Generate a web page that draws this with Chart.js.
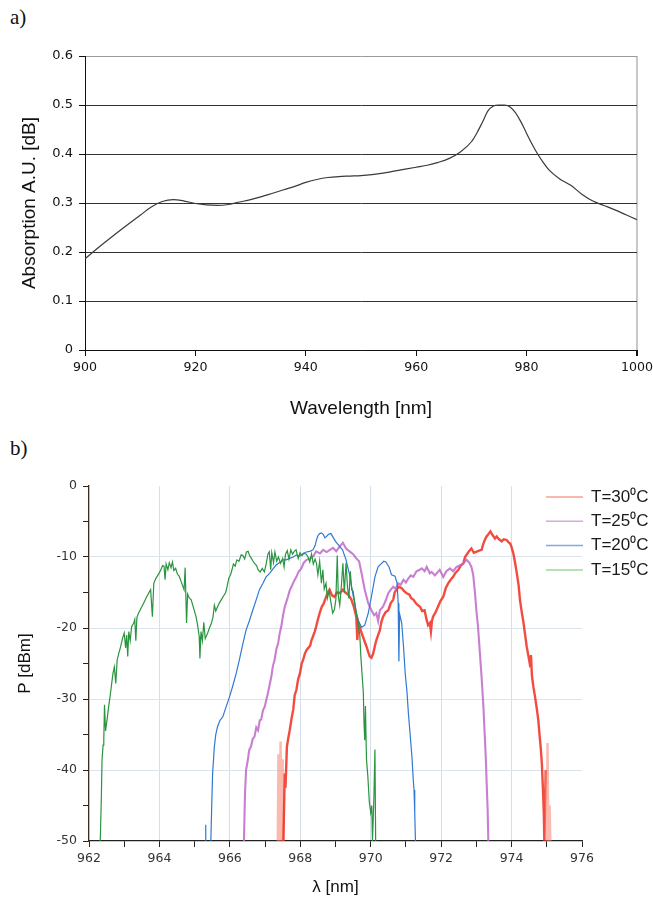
<!DOCTYPE html>
<html>
<head>
<meta charset="utf-8">
<script src="https://cdn.jsdelivr.net/npm/chart.js@4.4.1/dist/chart.umd.min.js"></script>
<style>
  body { margin: 0; background: #fff; width: 653px; height: 898px; position: relative; overflow: hidden; }
  .tag { position: absolute; left: 10px; font-family: "Liberation Serif", "DejaVu Serif", serif; font-size: 21px; line-height: 1; color: #111; }
  canvas { position: absolute; left: 0; }
</style>
</head>
<body>
<div class="tag" style="top:7px">a)</div>
<div class="tag" style="top:438px">b)</div>
<canvas id="absChart" width="653" height="420" style="top:0"></canvas>
<canvas id="specChart" width="653" height="468" style="top:430px"></canvas>
<script>
// a) absorption vs wavelength
const absWl = [900, 902, 905, 908, 910, 912, 914, 916, 918, 920,
  922, 924, 926, 928, 930, 932, 934, 936, 938, 940,
  942, 944, 946, 948, 950, 952, 954, 956, 958, 960,
  962, 964, 966, 968, 970, 971, 972, 973, 974, 975,
  976, 977, 978, 979, 980, 981, 982, 983, 984, 986,
  988, 990, 992, 994, 996, 998, 1000];
const absVal = [0.186, 0.205, 0.232, 0.258, 0.275, 0.292, 0.303, 0.307, 0.304, 0.299,
  0.296, 0.295, 0.297, 0.302, 0.307, 0.313, 0.320, 0.327, 0.334, 0.342,
  0.348, 0.352, 0.354, 0.355, 0.356, 0.358, 0.361, 0.365, 0.369, 0.373,
  0.377, 0.383, 0.391, 0.404, 0.425, 0.443, 0.465, 0.488, 0.498, 0.500,
  0.500, 0.496, 0.484, 0.465, 0.442, 0.420, 0.400, 0.383, 0.368, 0.349,
  0.336, 0.318, 0.304, 0.295, 0.286, 0.276, 0.266];

// b) spectra, one pair of arrays per temperature
const seriesLabels = ['T=30\u2070C', 'T=25\u2070C', 'T=20\u2070C', 'T=15\u2070C'];

const wl30 = [967.36, 967.38, 967.40, 967.44, 967.47, 967.50, 967.52, 967.56, 967.58, 967.62,
  967.66, 967.70, 967.75, 967.80, 967.84, 967.89, 967.94, 967.99, 968.04, 968.08,
  968.13, 968.18, 968.23, 968.28, 968.32, 968.36, 968.41, 968.45, 968.50, 968.55,
  968.61, 968.66, 968.72, 968.78, 968.83, 968.90, 968.97, 969.04, 969.12, 969.21,
  969.28, 969.36, 969.45, 969.52, 969.59, 969.62, 969.65, 969.74, 969.82, 969.88,
  969.93, 969.97, 970.02, 970.07, 970.12, 970.16, 970.21, 970.26, 970.30, 970.35,
  970.42, 970.50, 970.57, 970.64, 970.68, 970.73, 970.80, 970.88, 970.95, 971.02,
  971.10, 971.15, 971.21, 971.30, 971.40, 971.46, 971.53, 971.59, 971.63, 971.68,
  971.71, 971.74, 971.77, 971.84, 971.91, 971.98, 972.06, 972.13, 972.20, 972.27,
  972.34, 972.41, 972.49, 972.56, 972.63, 972.68, 972.72, 972.79, 972.86, 972.93,
  973.01, 973.08, 973.15, 973.20, 973.24, 973.29, 973.34, 973.40, 973.46, 973.53,
  973.58, 973.62, 973.67, 973.72, 973.78, 973.86, 973.91, 973.96, 974.00, 974.05,
  974.10, 974.15, 974.20, 974.24, 974.29, 974.34, 974.38, 974.43, 974.48, 974.53,
  974.55, 974.58, 974.62, 974.67, 974.72, 974.76, 974.79, 974.83, 974.86, 974.88,
  974.90, 974.92, 974.93, 974.97, 975.00, 975.02, 975.05, 975.08, 975.10];
const p30 = [-50, -37.8, -50, -36.0, -50, -38.5, -50, -40.5, -42.5, -36.7,
  -35.5, -34.4, -32.8, -31.5, -29.5, -28.7, -27.2, -26.4, -25.0, -24.5,
  -23.6, -23.1, -22.8, -22.5, -21.7, -21.2, -20.5, -19.8, -18.8, -17.9,
  -17.0, -16.6, -15.8, -15.0, -14.6, -15.4, -15.6, -15.0, -15.1, -14.6,
  -15.0, -15.3, -16.0, -17.0, -18.4, -21.7, -19.2, -20.7, -21.8, -22.6,
  -23.4, -24.0, -24.2, -23.6, -22.5, -21.7, -21.0, -20.3, -19.2, -18.4,
  -17.8, -17.5, -16.5, -16.0, -15.0, -14.6, -14.2, -14.4, -14.8, -15.1,
  -15.3, -15.8, -16.0, -16.6, -17.0, -17.6, -17.5, -18.9, -19.6, -19.3,
  -20.5, -19.0, -18.4, -17.8, -17.0, -16.2, -15.6, -14.4, -13.7, -13.2,
  -12.8, -12.2, -11.8, -11.2, -10.9, -10.0, -9.7, -9.2, -8.8, -9.4,
  -9.25, -9.1, -9.0, -8.1, -7.6, -7.1, -6.8, -6.4, -6.9, -7.4,
  -7.1, -7.4, -7.6, -7.8, -7.5, -7.6, -7.9, -8.1, -8.6, -9.5,
  -10.8, -12.3, -14.0, -16.1, -17.8, -19.3, -20.8, -22.6, -24.0, -25.4,
  -23.8, -26.8, -28.3, -29.8, -31.5, -33.0, -34.8, -37.0, -39.1, -41.5,
  -43.8, -47, -50, -40, -50, -36.2, -50, -45, -50];

const wl25 = [966.40, 966.43, 966.46, 966.51, 966.55, 966.60, 966.65, 966.70, 966.75, 966.80,
  966.85, 966.89, 966.94, 966.99, 967.04, 967.08, 967.13, 967.18, 967.22, 967.27,
  967.32, 967.37, 967.41, 967.46, 967.51, 967.56, 967.60, 967.65, 967.70, 967.75,
  967.82, 967.89, 967.96, 968.03, 968.10, 968.18, 968.27, 968.37, 968.45, 968.56,
  968.65, 968.75, 968.84, 968.93, 969.02, 969.12, 969.21, 969.30, 969.40, 969.50,
  969.59, 969.67, 969.74, 969.83, 969.93, 970.02, 970.10, 970.16, 970.21, 970.26,
  970.35, 970.42, 970.50, 970.57, 970.64, 970.71, 970.78, 970.85, 970.93, 971.00,
  971.07, 971.14, 971.21, 971.30, 971.39, 971.45, 971.53, 971.59, 971.68, 971.73,
  971.82, 971.96, 972.06, 972.15, 972.25, 972.34, 972.44, 972.53, 972.63, 972.72,
  972.80, 972.86, 972.91, 972.96, 973.00, 973.05, 973.10, 973.15, 973.20, 973.24,
  973.27, 973.29, 973.32, 973.34];
const p25 = [-50, -43.3, -40.0, -38.6, -37.2, -36.7, -35.6, -35.3, -34.0, -34.4,
  -33.0, -32.9, -31.6, -31.1, -30.0, -29.2, -28.0, -26.8, -25.4, -24.5,
  -23.0, -22.2, -20.9, -19.8, -18.2, -17.0, -16.4, -15.6, -14.7, -14.2,
  -13.4, -12.8, -12.0, -11.6, -10.8, -10.4, -10.2, -9.9, -9.2, -9.5,
  -9.0, -9.3, -9.0, -8.7, -9.2, -8.5, -8.0, -8.8, -9.2, -9.6,
  -10.2, -10.6, -12.3, -14.6, -16.5, -17.5, -18.2, -17.9, -19.0, -17.5,
  -17.0, -16.2, -15.1, -14.6, -14.2, -14.5, -13.7, -13.9, -13.2, -13.6,
  -13.0, -12.6, -12.8, -12.0, -11.8, -11.6, -12.0, -11.4, -12.3, -12.1,
  -12.6, -11.8, -12.8, -12.0, -11.6, -12.0, -11.4, -11.2, -10.9, -10.4,
  -10.8, -11.4, -12.5, -15.0, -17.5, -20.0, -23.5, -27.0, -31.0, -35.3,
  -38.5, -41.5, -45.5, -50];

const wl20 = [965.30, 965.31, 965.32, 965.33, 965.46, 965.49, 965.51, 965.56, 965.60, 965.65,
  965.72, 965.80, 965.90, 965.99, 966.08, 966.18, 966.27, 966.37, 966.46, 966.56,
  966.65, 966.75, 966.84, 966.94, 967.03, 967.13, 967.22, 967.32, 967.41, 967.51,
  967.60, 967.70, 967.80, 967.89, 967.98, 968.08, 968.17, 968.27, 968.36, 968.42,
  968.46, 968.50, 968.55, 968.60, 968.65, 968.70, 968.75, 968.80, 968.87, 968.93,
  969.00, 969.10, 969.20, 969.30, 969.40, 969.50, 969.58, 969.65, 969.74, 969.83,
  969.93, 970.02, 970.12, 970.21, 970.31, 970.37, 970.43, 970.52, 970.59, 970.69,
  970.75, 970.78, 970.80, 970.82, 970.88, 970.93, 970.98, 971.03, 971.07, 971.12,
  971.17, 971.21, 971.23, 971.25, 971.27];
const p20 = [-50, -47.7, -50, null, -50, -44, -40.5, -36.7, -35.0, -33.9,
  -33.0, -32.5, -31.0, -29.7, -28.2, -26.4, -24.5, -22.2, -20.3, -18.9,
  -17.5, -16.0, -14.6, -13.7, -12.8, -12.3, -11.7, -11.1, -10.8, -10.4,
  -10.4, -10.2, -10.0, -9.7, -9.9, -9.5, -9.3, -9.2, -9.0, -8.4,
  -7.6, -7.0, -6.7, -6.6, -6.8, -7.3, -7.1, -6.8, -6.7, -7.2,
  -7.8, -8.4, -9.0, -10.4, -12.5, -15.4, -17.6, -19.0, -19.9, -19.6,
  -17.9, -15.6, -12.8, -11.4, -10.9, -10.6, -10.7, -11.4, -12.5, -12.7,
  -13.7, -16.5, -24.7, -18.0, -19.3, -22.5, -26.4, -29.0, -32.0, -35.0,
  -38.1, -41.5, -42.8, -46, -50];

const wl15 = [962.32, 962.35, 962.37, 962.40, 962.42, 962.44, 962.47, 962.51, 962.56, 962.60,
  962.64, 962.68, 962.72, 962.76, 962.80, 962.85, 962.90, 962.95, 963.00, 963.04,
  963.07, 963.10, 963.13, 963.17, 963.21, 963.27, 963.30, 963.33, 963.36, 963.40,
  963.46, 963.55, 963.65, 963.75, 963.80, 963.84, 963.90, 963.94, 964.00, 964.04,
  964.09, 964.13, 964.16, 964.19, 964.24, 964.28, 964.33, 964.37, 964.41, 964.46,
  964.51, 964.56, 964.62, 964.70, 964.73, 964.77, 964.80, 964.85, 964.90, 964.97,
  965.04, 965.09, 965.13, 965.15, 965.18, 965.22, 965.26, 965.30, 965.37, 965.42,
  965.47, 965.52, 965.56, 965.60, 965.65, 965.70, 965.76, 965.82, 965.88, 965.92,
  965.97, 966.02, 966.06, 966.10, 966.15, 966.20, 966.26, 966.32, 966.37, 966.42,
  966.47, 966.52, 966.56, 966.61, 966.66, 966.70, 966.76, 966.80, 966.86, 966.92,
  966.98, 967.03, 967.08, 967.12, 967.16, 967.19, 967.24, 967.28, 967.33, 967.38,
  967.44, 967.50, 967.54, 967.58, 967.63, 967.68, 967.73, 967.78, 967.83, 967.88,
  967.94, 967.99, 968.05, 968.10, 968.17, 968.22, 968.27, 968.32, 968.37, 968.42,
  968.46, 968.50, 968.55, 968.60, 968.64, 968.68, 968.73, 968.77, 968.82, 968.87,
  968.92, 968.97, 969.01, 969.05, 969.08, 969.12, 969.16, 969.21, 969.25, 969.30,
  969.34, 969.38, 969.42, 969.46, 969.50, 969.55, 969.59, 969.64, 969.69, 969.72,
  969.76, 969.79, 969.81, 969.83, 969.85, 969.88, 969.92, 969.96, 970.00, 970.03,
  970.05, 970.09, 970.12, 970.14];
const p15 = [-50, -44, -38.6, -36.5, -35.8, -30.8, -34.5, -33, -31, -29.6,
  -28, -26.4, -25.5, -27.8, -24.5, -23.5, -22.6, -21.5, -20.7, -22.8,
  -21.0, -24.0, -20.5, -21.8, -19.8, -19.3, -18.8, -21.8, -18.5, -18.0,
  -17.4, -16.5, -15.5, -14.6, -18.4, -13.7, -13.0, -12.7, -12.2, -11.8,
  -11.2, -11.3, -13.2, -11.0, -11.8, -10.8, -11.5, -10.7, -11.9, -11.6,
  -12.4, -12.7, -13.5, -14.6, -11.5, -19.3, -15.2, -15.8, -16, -17.2,
  -18.4, -19.8, -21.2, -24.3, -20.5, -21.8, -19.2, -21.5, -20.7, -20.0,
  -19.4, -18.5, -16.8, -17.6, -17, -16.5, -16, -15.5, -15.0, -14.2,
  -13.0, -12.5, -11.8, -11.0, -11.3, -10.4, -10.6, -9.7, -9.8, -10.3,
  -9.3, -9.2, -9.8, -10.2, -10.6, -10.9, -11.2, -11.8, -12.1, -11.6,
  -12.1, -11.0, -9.6, -9.25, -11.8, -9.4, -10.8, -9.3, -10.6, -10.0,
  -10.9, -10.2, -11.4, -9.6, -9.1, -10.3, -9.0, -9.6, -9.2, -9.0,
  -10.2, -9.4, -9.8, -9.5, -9.6, -10.0, -10.7, -9.6, -11.0, -10.3,
  -10.9, -12.5, -10.6, -13.7, -11.8, -14.5, -13.7, -15.8, -14.8, -16.4,
  -17.9, -17.4, -16.0, -9.8, -15.5, -16.8, -14.5, -10.9, -15.0, -10.8,
  -14.2, -15.8, -12.0, -14.6, -14.8, -16.5, -17.8, -19.3, -21.0, -24.0,
  -27.0, -29.0, -33.5, -35.8, -31.0, -38.5, -41.0, -44.5, -46.0, -45.0,
  -50, -44, -37.1, -50];

function pairs(xs, ys) {
  return xs.map((x, i) => ({ x: x, y: ys[i] }));
}

// --- chart a ---
new Chart(document.getElementById('absChart'), {
  type: 'line',
  data: {
    datasets: [{
      data: pairs(absWl, absVal),
      borderColor: '#3a3a3a',
      borderWidth: 1.2,
      pointRadius: 0,
      cubicInterpolationMode: 'monotone'
    }]
  },
  options: {
    responsive: false,
    animation: false,
    devicePixelRatio: 1,
    layout: { padding: { top: 56, right: 16, bottom: 0, left: 0 } },
    plugins: { legend: { display: false }, tooltip: { enabled: false } },
    scales: {
      x: {
        type: 'linear', min: 900, max: 1000,
        // the "1000" label may run into the page margin, like in the original
        afterFit: s => { s.height = 70; s.paddingRight = 0; s.paddingLeft = 0; },
        ticks: { stepSize: 20, padding: 4, color: '#111',
          font: { family: 'DejaVu Sans', size: 12.6 },
          callback: v => String(v) },
        grid: {
          color: c => (c.tick && c.tick.value === 1000) ? '#c8c8c8' : 'rgba(0,0,0,0)',
          lineWidth: c => (c.tick && c.tick.value === 1000) ? 2 : 1,
          tickColor: '#111', tickLength: 6
        },
        border: { color: '#111', width: 1 },
        title: { display: true, text: 'Wavelength [nm]', color: '#111',
          font: { family: 'Liberation Sans', size: 19 }, padding: { top: 0, bottom: 0 } }
      },
      y: {
        min: 0, max: 0.6,
        afterFit: s => { s.width = 85; },
        ticks: { stepSize: 0.1, padding: 6, color: '#111',
          font: { family: 'DejaVu Sans', size: 13 } },
        grid: {
          color: c => (c.tick && Math.abs(c.tick.value - 0.6) < 1e-6) ? '#9a9a9a' : '#333',
          tickColor: '#111', tickLength: 6
        },
        border: { color: '#111', width: 1 },
        title: { display: true, text: 'Absorption A.U. [dB]', color: '#111',
          font: { family: 'Liberation Sans', size: 19 }, padding: { top: 18, bottom: 0 } }
      }
    }
  }
});

// --- chart b ---
const legendRight = {
  id: 'legendRight',
  afterDraw(chart) {
    const ctx = chart.ctx;
    ctx.save();
    ctx.font = '17px "Liberation Sans", Arial, sans-serif';
    ctx.textBaseline = 'middle';
    ctx.fillStyle = '#1a1a1a';
    chart.data.datasets.forEach((ds, i) => {
      const y = 67 + i * 24.3;
      ctx.strokeStyle = ds.legendColor;
      ctx.lineWidth = 1.5;
      ctx.beginPath();
      ctx.moveTo(546, y);
      ctx.lineTo(583, y);
      ctx.stroke();
      ctx.fillText(ds.label, 591, y);
    });
    ctx.restore();
  }
};

// pale colour for the isolated spikes at both feet of the 30 C trace
const redMain = 'rgba(240,45,30,0.85)';
const redPale = 'rgba(246,130,110,0.55)';

new Chart(document.getElementById('specChart'), {
  type: 'line',
  data: {
    datasets: [
      { label: seriesLabels[0], data: pairs(wl30, p30), order: 4,
        borderColor: redMain, borderWidth: 2.4, legendColor: '#f5a095',
        segment: { borderColor: c => (c.p1.parsed.x < 967.53 || c.p0.parsed.x > 974.93) ? redPale : redMain } },
      { label: seriesLabels[1], data: pairs(wl25, p25), order: 3,
        borderColor: 'rgba(190,105,200,0.85)', borderWidth: 2.1, legendColor: '#d9a8dc' },
      { label: seriesLabels[2], data: pairs(wl20, p20), order: 2,
        borderColor: '#2f7ad4', borderWidth: 1.2, legendColor: '#7eaae6' },
      { label: seriesLabels[3], data: pairs(wl15, p15), order: 1,
        borderColor: '#2a9440', borderWidth: 1.2, legendColor: '#9fd89c' }
    ]
  },
  options: {
    responsive: false,
    animation: false,
    devicePixelRatio: 1,
    spanGaps: false,
    elements: { point: { radius: 0 }, line: { tension: 0 } },
    layout: { padding: { top: 56, right: 71, bottom: 0, left: 0 } },
    plugins: { legend: { display: false }, tooltip: { enabled: false } },
    scales: {
      x: {
        type: 'linear', min: 962, max: 976,
        afterFit: s => { s.height = 57; },
        ticks: { stepSize: 1, padding: 4, autoSkip: false, maxRotation: 0, color: '#333',
          font: { family: 'DejaVu Sans', size: 12.5 },
          callback: v => (v % 2 === 0 ? String(v) : '') },
        grid: {
          color: c => (c.tick && c.tick.value % 2 === 0 && c.tick.value > 962 && c.tick.value < 976) ? '#d6e0e8' : 'rgba(0,0,0,0)',
          tickColor: '#222', tickLength: 6
        },
        border: { color: '#222', width: 1.3 },
        title: { display: true, text: '\u03bb [nm]', color: '#111',
          font: { family: 'Liberation Sans', size: 17 }, padding: { top: 0, bottom: 0 } }
      },
      y: {
        min: -50, max: 0,
        afterFit: s => { s.width = 89; },
        ticks: { stepSize: 5, padding: 6, color: '#333',
          font: { family: 'DejaVu Sans', size: 12.5 },
          callback: v => (v % 10 === 0 ? String(v) : '') },
        grid: {
          color: c => (c.tick && c.tick.value % 10 === 0 && c.tick.value < 0 && c.tick.value > -50) ? '#dbe4ec' : 'rgba(0,0,0,0)',
          tickColor: '#2a2220', tickLength: 6
        },
        border: { color: '#3a2a22', width: 1.3 },
        title: { display: true, text: 'P [dBm]', color: '#111',
          font: { family: 'Liberation Sans', size: 17 }, padding: { top: 15, bottom: 0 } }
      }
    }
  },
  plugins: [legendRight]
});
</script>
</body>
</html>
